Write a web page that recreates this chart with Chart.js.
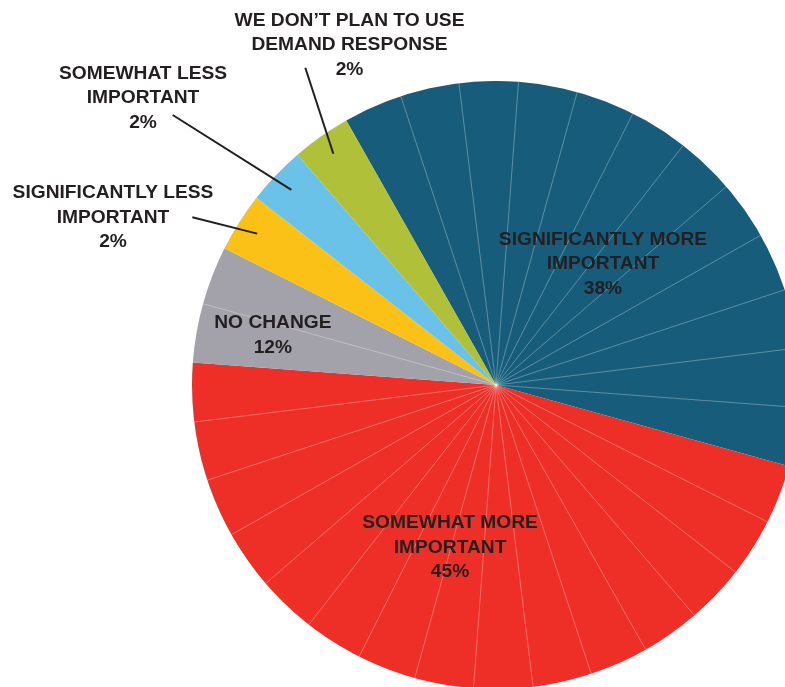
<!DOCTYPE html>
<html>
<head>
<meta charset="utf-8">
<script src="https://cdn.jsdelivr.net/npm/chart.js@4"></script>
<style>
    html, body { margin: 0; padding: 0; background: #fff; overflow: hidden; }
    #pie { display: block; }
</style>
</head>
<body>
<canvas id="pie" width="800" height="700"></canvas>
<script>
// slice sizes as drawn (respondent units), clockwise from the blue slice
const categories = ['Significantly more important', 'Somewhat more important', 'No change',
    'Significantly less important', 'Somewhat less important', "We don't plan to use demand response"];
const counts = [12, 15, 2, 1, 1, 1];
const percentLabels = ['38%', '45%', '12%', '2%', '2%', '2%'];
const labelLines = [
    ['SIGNIFICANTLY MORE', 'IMPORTANT'],
    ['SOMEWHAT MORE', 'IMPORTANT'],
    ['NO CHANGE'],
    ['SIGNIFICANTLY LESS', 'IMPORTANT'],
    ['SOMEWHAT LESS', 'IMPORTANT'],
    ['WE DON\u2019T PLAN TO USE', 'DEMAND RESPONSE']
];
const colors = ['#175d7b', '#ed2f27', '#a3a2aa', '#fcc116', '#6bc2e8', '#b0c139'];

// where the labels go: inside ones relative to the slice, callouts by text anchor
const placement = [
    { inside: true, dAngle: 3.5, r: 0.531 },
    { inside: true, dAngle: 5.9, r: 0.556 },
    { inside: true, dAngle: -2.9, r: 0.752 },
    { inside: false, text: [113, 193], lineFrom: [192.3, 217.3] },
    { inside: false, text: [143, 73.5], lineFrom: [172.7, 115] },
    { inside: false, text: [349.5, 20.5], lineFrom: [305.3, 67.7] }
];

const FONT = 'bold 19.2px "Liberation Sans", Arial, sans-serif';
const LINE_H = 24.5;

// thin white lines between each unit inside a slice
const unitLines = {
    id: 'unitLines',
    afterDatasetsDraw(chart) {
        const ctx = chart.ctx;
        const meta = chart.getDatasetMeta(0);
        ctx.save();
        ctx.strokeStyle = 'rgba(255,255,255,0.38)';
        ctx.lineWidth = 0.8;
        meta.data.forEach((arc, i) => {
            const n = counts[i];
            const step = (arc.endAngle - arc.startAngle) / n;
            for (let k = 1; k < n; k++) {
                const a = arc.startAngle + step * k;
                ctx.beginPath();
                ctx.moveTo(arc.x, arc.y);
                ctx.lineTo(arc.x + Math.cos(a) * arc.outerRadius, arc.y + Math.sin(a) * arc.outerRadius);
                ctx.stroke();
            }
        });
        ctx.restore();
    }
};

const sliceLabels = {
    id: 'sliceLabels',
    afterDraw(chart) {
        const ctx = chart.ctx;
        const meta = chart.getDatasetMeta(0);
        ctx.save();
        ctx.font = FONT;
        ctx.fillStyle = '#231f20';
        ctx.textAlign = 'center';
        ctx.textBaseline = 'middle';
        meta.data.forEach((arc, i) => {
            const p = placement[i];
            const lines = labelLines[i].concat([percentLabels[i]]);
            const mid = (arc.startAngle + arc.endAngle) / 2;
            if (p.inside) {
                const a = mid + p.dAngle * Math.PI / 180;
                const cx = arc.x + Math.cos(a) * arc.outerRadius * p.r;
                const cy = arc.y + Math.sin(a) * arc.outerRadius * p.r;
                lines.forEach((t, j) => {
                    ctx.fillText(t, cx, cy + (j - (lines.length - 1) / 2) * LINE_H);
                });
            } else {
                lines.forEach((t, j) => {
                    ctx.fillText(t, p.text[0], p.text[1] + j * LINE_H);
                });
                const r = arc.outerRadius * 0.93;
                ctx.beginPath();
                ctx.strokeStyle = '#231f20';
                ctx.lineWidth = 2;
                ctx.moveTo(p.lineFrom[0], p.lineFrom[1]);
                ctx.lineTo(arc.x + Math.cos(mid) * r, arc.y + Math.sin(mid) * r);
                ctx.stroke();
            }
        });
        ctx.restore();
    }
};

new Chart(document.getElementById('pie'), {
    type: 'pie',
    data: {
        labels: categories,
        datasets: [{
            data: counts,
            backgroundColor: colors,
            borderWidth: 0,
            hoverOffset: 0,
            offset: 0
        }]
    },
    options: {
        responsive: false,
        animation: false,
        events: [],
        rotation: -29.5,
        layout: { padding: { left: 192, top: 81, right: 0, bottom: 11 } },
        plugins: {
            legend: { display: false },
            tooltip: { enabled: false }
        }
    },
    plugins: [unitLines, sliceLabels]
});
</script>
</body>
</html>
